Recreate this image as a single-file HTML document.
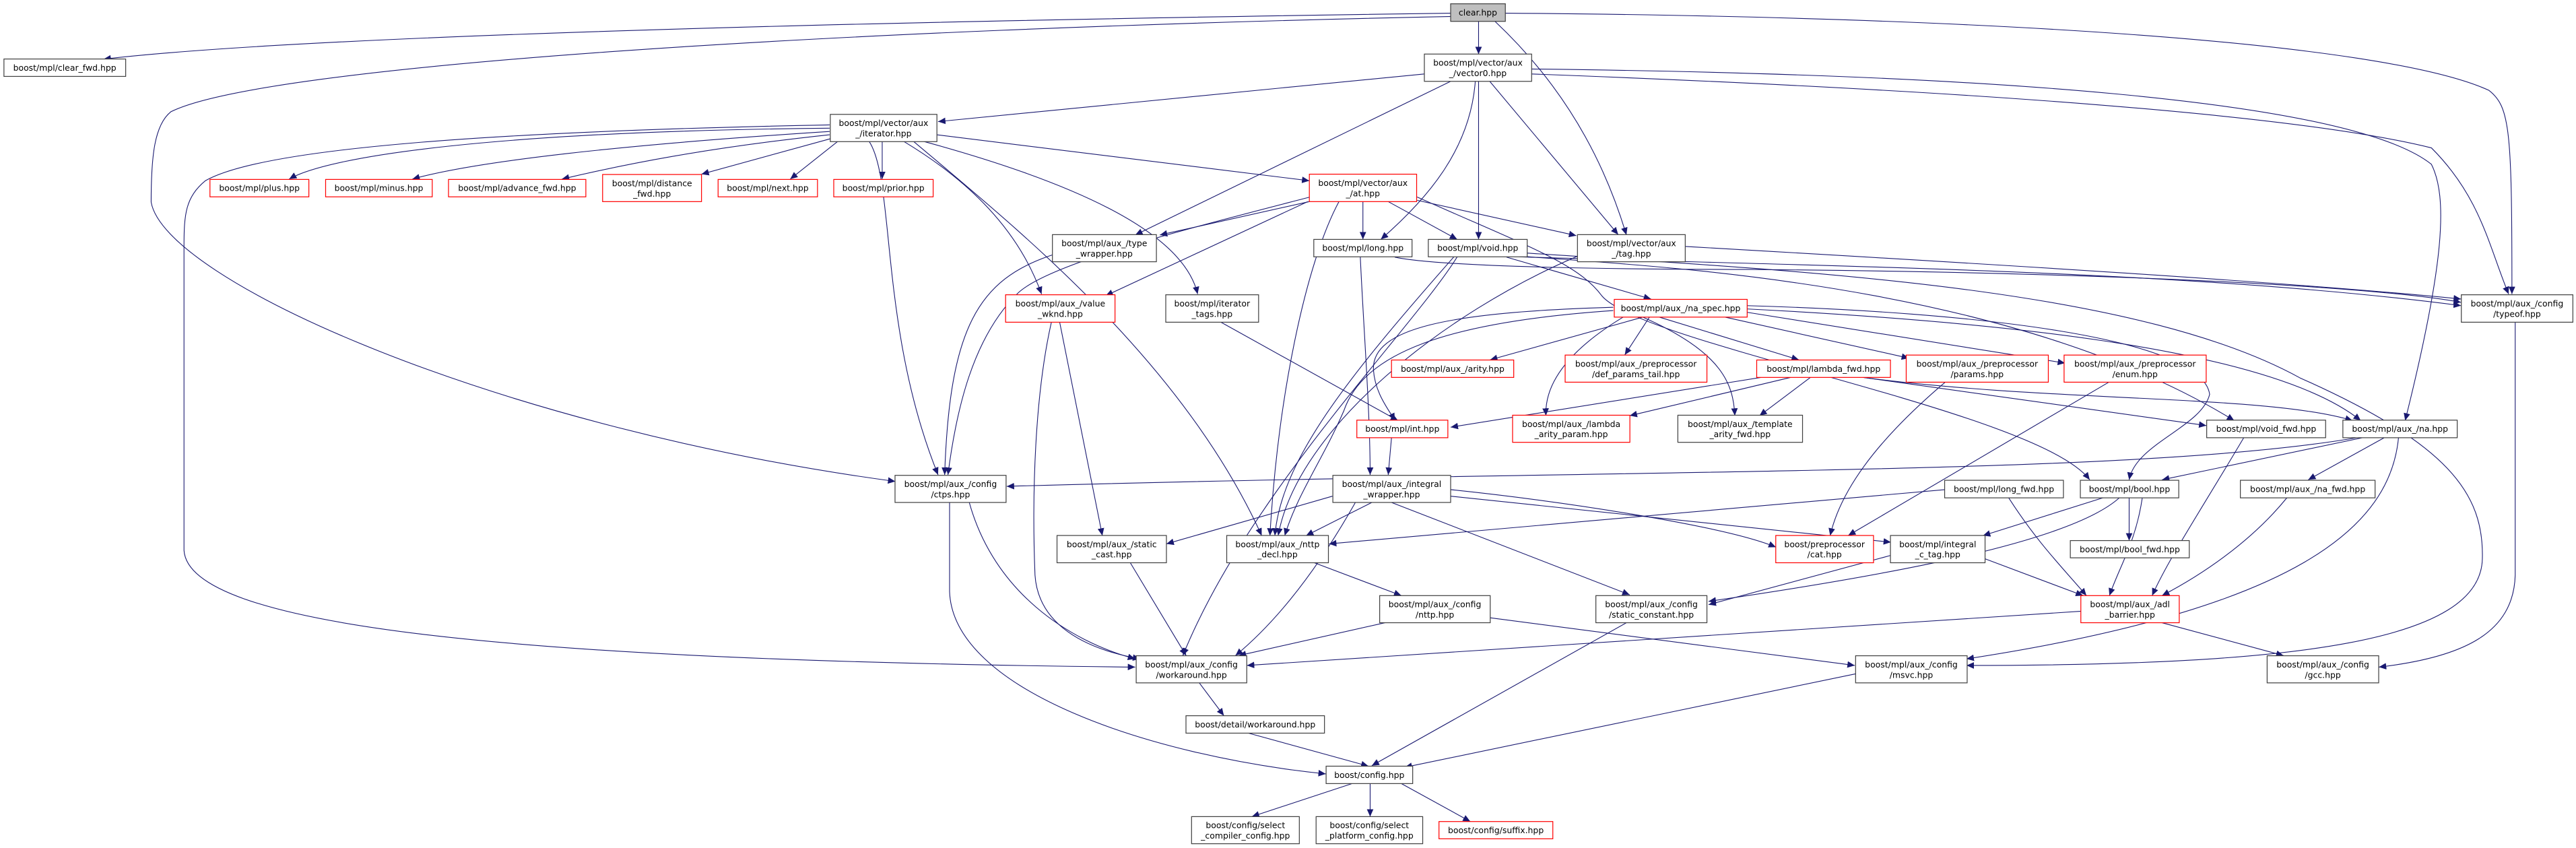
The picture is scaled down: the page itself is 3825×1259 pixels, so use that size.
<!DOCTYPE html>
<html><head><meta charset="utf-8"><style>
html,body{margin:0;padding:0;background:#fff;}
svg{display:block;}
text{font-family:"DejaVu Sans","Liberation Sans",sans-serif;font-size:5.1px;fill:#000;text-anchor:middle;}
.n{fill:#fff;stroke:#404040;stroke-width:0.5;}
.r{fill:#fff;stroke:#ff0000;stroke-width:0.5;}
.g{fill:#bfbfbf;stroke:#404040;stroke-width:0.5;}
path.e{fill:none;stroke:#191970;stroke-width:0.45;marker-end:url(#a);}
</style></head><body>
<svg width="3825" height="1259" viewBox="0 0 1568 516.1" xmlns="http://www.w3.org/2000/svg">
<defs><marker id="a" markerUnits="userSpaceOnUse" markerWidth="5" markerHeight="4" refX="4.5" refY="2" orient="auto"><path d="M0,0 L4.5,2 L0,4 Z" fill="#191970"/></marker></defs>

<!-- edges -->
<path class="e" d="M884,8 C600,12 200,20 63,36"/>
<path class="e" d="M884,10 C500,18 160,40 104,68 C94,76 92,95 92,123 C100,170 300,260 545,293"/>
<path class="e" d="M900,13 L900,33"/>
<path class="e" d="M910,13 C960,60 980,110 990,143"/>
<path class="e" d="M916,8 C1200,10 1450,25 1515,55 C1528,65 1529,80 1529,179"/>
<path class="e" d="M932,42 C1200,45 1430,60 1480,100 C1490,120 1488,160 1464,256"/>
<path class="e" d="M932,45 C1200,55 1400,70 1480,90 C1510,120 1515,150 1527,179"/>
<path class="e" d="M867,45 L571,74"/>
<path class="e" d="M883,49.5 L691,143"/>
<path class="e" d="M898,49.5 C895,90 870,120 840.5,145.7"/>
<path class="e" d="M900,49.5 L900,145.7"/>
<path class="e" d="M906.8,49.5 L985,142.8"/>

<path class="e" d="M505,78 C300,80 200,95 176,109"/>
<path class="e" d="M505,80 C380,88 290,98 251,109"/>
<path class="e" d="M505,82 C430,90 380,100 342,109"/>
<path class="e" d="M507,84 L427,106"/>
<path class="e" d="M510,86 L481,109"/>
<path class="e" d="M537,86 L537,109"/>
<path class="e" d="M505,76 C300,80 160,90 125,110 C113,120 112,130 112,150 L112,335 C115,380 300,402 691,406"/>
<path class="e" d="M529,86 C545,110 535,200 571,289"/>
<path class="e" d="M550,86 C590,110 620,140 634,179"/>
<path class="e" d="M562,86 C650,110 720,140 729,179"/>
<path class="e" d="M556,86 C620,140 720,220 768,326"/>
<path class="e" d="M570,82 L797,110"/>

<path class="e" d="M797,122.7 L706,143"/>
<path class="e" d="M829.6,122.7 L829.6,145.7"/>
<path class="e" d="M845,122.7 L887,145.7"/>
<path class="e" d="M862.6,121.9 L959.5,143.4"/>
<path class="e" d="M797,120 C720,140 640,160 620,178 C592,205 582,250 577,289"/>
<path class="e" d="M796,122.7 L673,180"/>
<path class="e" d="M815,122.7 C795,160 778,240 773,326"/>
<path class="e" d="M862.6,119.9 C930,150 960,160 975,180 C1000,210 1240,250 1272,292"/>
<path class="e" d="M641,155 C595,170 578,200 575,289"/>
<path class="e" d="M828,156.3 C830,200 834,250 834,289"/>
<path class="e" d="M849,156.5 C880,163 1000,164 1066,164 C1300,166 1450,175 1498,184"/>
<path class="e" d="M885,156.3 C820,230 780,280 776,326"/>
<path class="e" d="M887,156.3 C860,200 760,300 720,399"/>
<path class="e" d="M917,156.5 L1005,182"/>
<path class="e" d="M925,156.3 C1100,162 1330,164 1498,186"/>
<path class="e" d="M929,154 C1100,165 1300,175 1400,230 C1490,270 1512,300 1511,340 C1510,390 1400,405 1197,405"/>
<path class="e" d="M927,156 C1000,162 1220,170 1360,256"/>
<path class="e" d="M1026,150 C1200,160 1400,172 1498,182"/>
<path class="e" d="M960,156 C880,190 790,260 778,326"/>

<path class="e" d="M1000,193 L907,219"/>
<path class="e" d="M1004,193 L989,216"/>
<path class="e" d="M982,187 C880,190 835,200 836,225 C837,240 846,250 849,256"/>
<path class="e" d="M982,189 C880,196 830,215 818,250 C805,280 790,300 782,326"/>
<path class="e" d="M988,193 C960,210 940,230 941,253"/>
<path class="e" d="M1000,193 C1050,215 1055,235 1056,253"/>
<path class="e" d="M1010,193 L1095,219"/>
<path class="e" d="M1050,193 L1162,218"/>
<path class="e" d="M1063,190 L1257,221"/>
<path class="e" d="M1063,188 C1200,195 1380,210 1437,256"/>
<path class="e" d="M1063,186 C1200,190 1340,205 1345,240 C1340,260 1300,270 1296,292"/>

<path class="e" d="M1072,229.7 L883,260"/>
<path class="e" d="M1090,229.7 L992,253"/>
<path class="e" d="M1102,229.7 L1071,253"/>
<path class="e" d="M1134,229.7 L1343,259"/>
<path class="e" d="M1134,229.7 C1250,245 1380,240 1432,256"/>
<path class="e" d="M1184,232.6 C1140,270 1120,300 1114,326"/>
<path class="e" d="M1283.6,232.6 L1125,325.9"/>

<path class="e" d="M847,266.4 L845,289"/>
<path class="e" d="M743,196 L851,256"/>
<path class="e" d="M645,196 L671,326"/>
<path class="e" d="M640,196 C630,240 628,300 630,350 C632,380 660,395 694,401"/>

<path class="e" d="M1437,266 C1300,290 1000,285 612.8,296"/>
<path class="e" d="M811,302 L710,331"/>
<path class="e" d="M835,305.8 L795,326"/>
<path class="e" d="M825,305.8 C800,350 775,380 752,399"/>
<path class="e" d="M847,305.8 L992,362"/>
<path class="e" d="M883,298 C950,305 1050,320 1081,333"/>
<path class="e" d="M883,302 L1151,330"/>
<path class="e" d="M590,305.8 C605,360 650,390 691,401"/>
<path class="e" d="M578,305.8 L578,360 C580,420 700,460 807,471"/>
<path class="e" d="M688,342.5 L722,399"/>
<path class="e" d="M800,342.5 L853,362.5"/>
<path class="e" d="M843,379 L754,399"/>
<path class="e" d="M907,376 L1129,405"/>
<path class="e" d="M990,379 L835,466"/>
<path class="e" d="M1184,298 L809,331"/>
<path class="e" d="M1222.7,303 C1240,330 1255,345 1270,362.5"/>
<path class="e" d="M1280,303 L1207,326"/>
<path class="e" d="M1296,303 L1296,329"/>
<path class="e" d="M1290,303 C1260,330 1150,350 1040,366"/>
<path class="e" d="M1151,338 L1040,368"/>
<path class="e" d="M1208,340 L1268,362.5"/>
<path class="e" d="M1392,303 C1370,330 1340,350 1316,362.5"/>
<path class="e" d="M1440,266 L1316,292"/>
<path class="e" d="M1452,266 L1405,292"/>
<path class="e" d="M1460,266 C1455,320 1400,370 1197,401"/>
<path class="e" d="M1366,266 C1340,310 1320,340 1310,362.5"/>
<path class="e" d="M1304,303 C1300,330 1290,345 1284,362.5"/>
<path class="e" d="M1267,372 L759,405"/>
<path class="e" d="M1316,379 L1390,399"/>
<path class="e" d="M1531,196 L1531,350 C1530,385 1500,400 1448,406"/>
<path class="e" d="M1130,410 L855,467"/>
<path class="e" d="M730,415.6 L745,435.6"/>
<path class="e" d="M760,446.2 L833,466.3"/>
<path class="e" d="M823,476.9 L762,497"/>
<path class="e" d="M834,476.9 L834,497"/>
<path class="e" d="M853,476.9 L895,500"/>

<!-- nodes -->
<rect class="g" x="883" y="2.3" width="33.3" height="10.7"/><text x="899.6" y="9.5">clear.hpp</text>
<rect class="n" x="2.4" y="35.9" width="74.1" height="10.6"/><text x="39.4" y="43">boost/mpl/clear_fwd.hpp</text>
<rect class="n" x="867" y="32.9" width="65.3" height="16.6"/><text x="899.6" y="40">boost/mpl/vector/aux</text><text x="899.6" y="46.3">_/vector0.hpp</text>
<rect class="n" x="505.4" y="69.6" width="64.9" height="16.6"/><text x="537.8" y="76.7">boost/mpl/vector/aux</text><text x="537.8" y="83">_/iterator.hpp</text>
<rect class="r" x="127.8" y="109.2" width="60.2" height="10.6"/><text x="157.9" y="116.3">boost/mpl/plus.hpp</text>
<rect class="r" x="198.2" y="109.2" width="64.9" height="10.6"/><text x="230.6" y="116.3">boost/mpl/minus.hpp</text>
<rect class="r" x="273" y="109.2" width="83.6" height="10.6"/><text x="314.8" y="116.3">boost/mpl/advance_fwd.hpp</text>
<rect class="r" x="366.8" y="106.2" width="60.2" height="16.5"/><text x="396.9" y="113.3">boost/mpl/distance</text><text x="396.9" y="119.6">_fwd.hpp</text>
<rect class="r" x="437.1" y="109.2" width="60.5" height="10.6"/><text x="467.3" y="116.3">boost/mpl/next.hpp</text>
<rect class="r" x="507.5" y="109.2" width="60.5" height="10.6"/><text x="537.7" y="116.3">boost/mpl/prior.hpp</text>
<rect class="r" x="797" y="106" width="65.3" height="16.7"/><text x="829.6" y="113.1">boost/mpl/vector/aux</text><text x="829.6" y="119.5">_/at.hpp</text>
<rect class="n" x="640.6" y="142.8" width="63.3" height="16.5"/><text x="672.2" y="149.9">boost/mpl/aux_/type</text><text x="672.2" y="156.2">_wrapper.hpp</text>
<rect class="n" x="799.7" y="145.7" width="59.8" height="10.6"/><text x="829.6" y="152.8">boost/mpl/long.hpp</text>
<rect class="n" x="869.4" y="145.7" width="60.2" height="10.6"/><text x="899.5" y="152.8">boost/mpl/void.hpp</text>
<rect class="n" x="960.2" y="142.8" width="65.6" height="16.5"/><text x="993" y="149.9">boost/mpl/vector/aux</text><text x="993" y="156.2">_/tag.hpp</text>
<rect class="n" x="1498.2" y="179.4" width="67.9" height="16.7"/><text x="1532.1" y="186.5">boost/mpl/aux_/config</text><text x="1532.1" y="192.9">/typeof.hpp</text>
<rect class="r" x="612.1" y="179.4" width="66.6" height="16.7"/><text x="645.4" y="186.5">boost/mpl/aux_/value</text><text x="645.4" y="192.9">_wknd.hpp</text>
<rect class="n" x="709.6" y="179.4" width="56.5" height="16.7"/><text x="737.8" y="186.5">boost/mpl/iterator</text><text x="737.8" y="192.9">_tags.hpp</text>
<rect class="r" x="982.6" y="182.2" width="80.9" height="10.8"/><text x="1023" y="189.4">boost/mpl/aux_/na_spec.hpp</text>
<rect class="r" x="847" y="219.1" width="74.4" height="10.6"/><text x="884.2" y="226.2">boost/mpl/aux_/arity.hpp</text>
<rect class="r" x="952.7" y="216.1" width="86.3" height="16.5"/><text x="995.8" y="223.2">boost/mpl/aux_/preprocessor</text><text x="995.8" y="229.5">/def_params_tail.hpp</text>
<rect class="r" x="1069.3" y="219.1" width="81.4" height="10.6"/><text x="1110" y="226.2">boost/mpl/lambda_fwd.hpp</text>
<rect class="r" x="1160.3" y="216.1" width="86.5" height="16.5"/><text x="1203.5" y="223.2">boost/mpl/aux_/preprocessor</text><text x="1203.5" y="229.5">/params.hpp</text>
<rect class="r" x="1256.4" y="216.1" width="86.5" height="16.5"/><text x="1299.6" y="223.2">boost/mpl/aux_/preprocessor</text><text x="1299.6" y="229.5">/enum.hpp</text>
<rect class="r" x="825.9" y="255.7" width="55.4" height="10.7"/><text x="853.6" y="262.8">boost/mpl/int.hpp</text>
<rect class="r" x="920.7" y="252.7" width="71.4" height="16.5"/><text x="956.4" y="259.8">boost/mpl/aux_/lambda</text><text x="956.4" y="266.1">_arity_param.hpp</text>
<rect class="n" x="1021.3" y="252.7" width="75.9" height="16.5"/><text x="1059.2" y="259.8">boost/mpl/aux_/template</text><text x="1059.2" y="266.1">_arity_fwd.hpp</text>
<rect class="n" x="1343.2" y="255.7" width="72.4" height="10.7"/><text x="1379.4" y="262.8">boost/mpl/void_fwd.hpp</text>
<rect class="n" x="1426.1" y="255.7" width="69.6" height="10.7"/><text x="1460.9" y="262.8">boost/mpl/aux_/na.hpp</text>
<rect class="n" x="544.8" y="289.3" width="67.6" height="16.5"/><text x="578.6" y="296.4">boost/mpl/aux_/config</text><text x="578.6" y="302.7">/ctps.hpp</text>
<rect class="n" x="811.3" y="289.3" width="71.7" height="16.5"/><text x="847.1" y="296.4">boost/mpl/aux_/integral</text><text x="847.1" y="302.7">_wrapper.hpp</text>
<rect class="n" x="1183.7" y="292.3" width="72.3" height="10.7"/><text x="1219.8" y="299.4">boost/mpl/long_fwd.hpp</text>
<rect class="n" x="1266.3" y="292.3" width="59.9" height="10.7"/><text x="1296.2" y="299.4">boost/mpl/bool.hpp</text>
<rect class="n" x="1363.7" y="292.3" width="82" height="10.7"/><text x="1404.7" y="299.4">boost/mpl/aux_/na_fwd.hpp</text>
<rect class="n" x="643.4" y="325.9" width="66.6" height="16.6"/><text x="676.7" y="333">boost/mpl/aux_/static</text><text x="676.7" y="339.3">_cast.hpp</text>
<rect class="n" x="746.7" y="325.9" width="61.9" height="16.6"/><text x="777.6" y="333">boost/mpl/aux_/nttp</text><text x="777.6" y="339.3">_decl.hpp</text>
<rect class="r" x="1080.9" y="325.9" width="59.5" height="16.6"/><text x="1110.6" y="333">boost/preprocessor</text><text x="1110.6" y="339.3">/cat.hpp</text>
<rect class="n" x="1150.7" y="325.9" width="57.6" height="16.6"/><text x="1179.5" y="333">boost/mpl/integral</text><text x="1179.5" y="339.3">_c_tag.hpp</text>
<rect class="n" x="1260.2" y="329" width="72.4" height="10.5"/><text x="1296.4" y="336.1">boost/mpl/bool_fwd.hpp</text>
<rect class="n" x="839.8" y="362.5" width="67.3" height="16.5"/><text x="873.4" y="369.6">boost/mpl/aux_/config</text><text x="873.4" y="375.9">/nttp.hpp</text>
<rect class="n" x="971.4" y="362.5" width="67.6" height="16.5"/><text x="1005.2" y="369.6">boost/mpl/aux_/config</text><text x="1005.2" y="375.9">/static_constant.hpp</text>
<rect class="r" x="1266.6" y="362.5" width="59.9" height="16.5"/><text x="1296.5" y="369.6">boost/mpl/aux_/adl</text><text x="1296.5" y="375.9">_barrier.hpp</text>
<rect class="n" x="691.6" y="399.1" width="67.3" height="16.5"/><text x="725.2" y="406.2">boost/mpl/aux_/config</text><text x="725.2" y="412.5">/workaround.hpp</text>
<rect class="n" x="1129.5" y="399.1" width="67.9" height="16.5"/><text x="1163.4" y="406.2">boost/mpl/aux_/config</text><text x="1163.4" y="412.5">/msvc.hpp</text>
<rect class="n" x="1380" y="399.1" width="67.9" height="16.5"/><text x="1413.9" y="406.2">boost/mpl/aux_/config</text><text x="1413.9" y="412.5">/gcc.hpp</text>
<rect class="n" x="721.9" y="435.6" width="84.3" height="10.6"/><text x="764" y="442.7">boost/detail/workaround.hpp</text>
<rect class="n" x="807.2" y="466.3" width="52.7" height="10.6"/><text x="833.5" y="473.4">boost/config.hpp</text>
<rect class="n" x="725.3" y="497" width="65.6" height="16.5"/><text x="758.1" y="504.1">boost/config/select</text><text x="758.1" y="510.4">_compiler_config.hpp</text>
<rect class="n" x="801.1" y="497" width="64.9" height="16.5"/><text x="833.5" y="504.1">boost/config/select</text><text x="833.5" y="510.4">_platform_config.hpp</text>
<rect class="r" x="875.9" y="500" width="69.3" height="10.5"/><text x="910.5" y="507.1">boost/config/suffix.hpp</text>
</svg>
</body></html>
